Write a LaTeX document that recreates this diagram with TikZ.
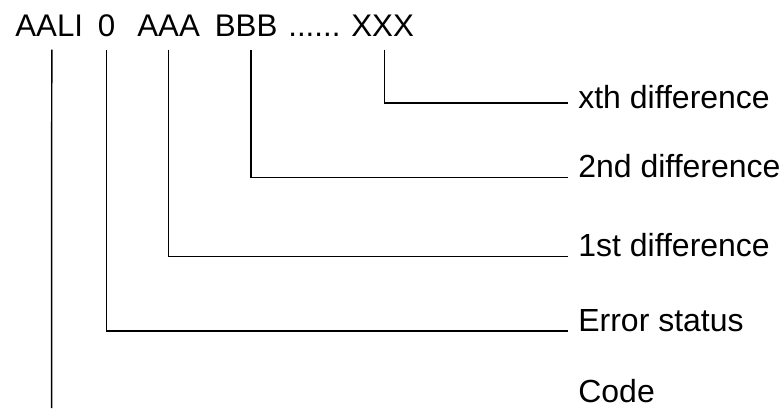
\documentclass[tikz,border=0pt]{standalone}
\usepackage{fontspec}
\setmainfont{Liberation Sans}
\usetikzlibrary{positioning,calc}
\tikzset{field/.style={anchor=base west,inner sep=0pt,font=\fontsize{17.8}{21}\selectfont}, desc/.style={field,font=\fontsize{18.2}{22}\selectfont}, link/.style={line width=0.85pt,draw=black}}

\begin{document}
\begin{tikzpicture}[x=1cm,y=1cm]
\useasboundingbox (0,0) rectangle (15.66,-8.16);
% record fields
\node[field] (aali) at (0.30,-0.72) {AALI};
\node[field] (zero) at (1.95,-0.72) {0};
\node[field] (aaa) at (2.74,-0.72) {AAA};
\node[field] (bbb) at (4.29,-0.72) {BBB};
\node[field] (dots) at (5.76,-0.72) {......};
\node[field] (xxx) at (7.02,-0.72) {XXX};
% what each field means
\node[desc] (dx) at (11.56,-2.16) {xth difference};
\node[desc] (d2) at (11.56,-3.55) {2nd difference};
\node[desc] (d1) at (11.56,-5.13) {1st difference};
\node[desc] (err) at (11.56,-6.62) {Error status};
\node[desc] (code) at (11.56,-8.04) {Code};
\coordinate (codeend) at (1.034,-8.16);
\draw[link] ([xshift=0.5mm,yshift=-2.7mm]aali.base) -- (codeend);
\draw[link] ([yshift=-2.7mm]zero.base) |- ([xshift=-2mm]err.base west);
\draw[link] ([yshift=-2.7mm]aaa.base) |- ([xshift=-2mm]d1.base west);
\draw[link] ([xshift=1mm,yshift=-2.7mm]bbb.base) |- ([xshift=-2mm]d2.base west);
\draw[link] ([xshift=0.4mm,yshift=-2.7mm]xxx.base) |- ([xshift=-2mm,yshift=1mm]dx.base west);
\end{tikzpicture}
\end{document}
